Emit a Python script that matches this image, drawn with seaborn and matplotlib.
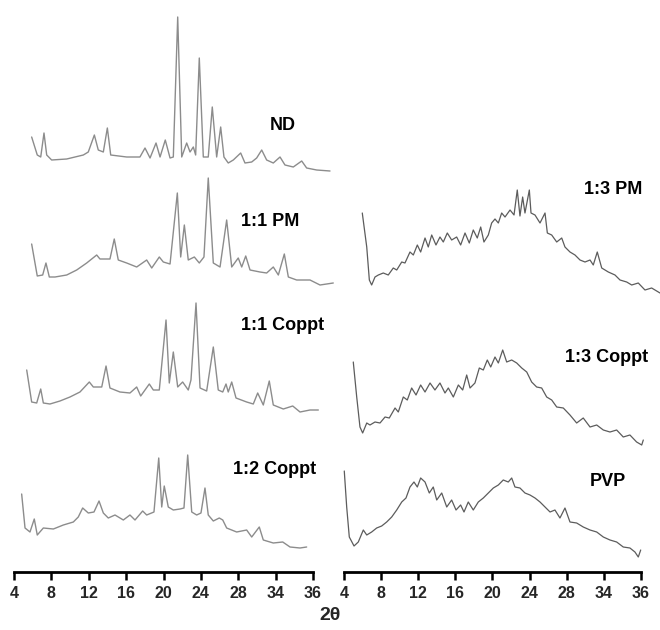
import matplotlib
matplotlib.use("Agg")
import matplotlib.pyplot as plt
import seaborn as sns
import numpy as np
import pandas as pd

# ---------------- data (2-theta in degrees, intensity in a.u.) ----------------
nd_x = [5.89, 6.49, 6.86, 7.21, 7.50, 8.03, 9.64, 11.42, 11.95, 12.60, 13.02, 13.56, 13.99, 14.35,
        16.06, 17.48, 18.02, 18.56, 19.20, 19.63, 20.19, 20.70, 21.05, 21.52, 21.95, 22.48, 22.84,
        23.19, 23.44, 23.83, 24.26, 24.79, 25.22, 25.69, 26.12, 26.47, 26.93, 27.47, 28.26, 28.72,
        29.44, 29.97, 30.51, 31.04, 31.75, 32.47, 33.00, 33.89, 34.79, 35.32, 36.39, 37.82]
nd_y = [35, 17, 15, 39, 17, 12, 13, 17, 20, 37, 22, 20, 44, 17,
        15, 15, 24, 14, 29, 15, 32, 14, 15, 155, 15, 29, 20,
        25, 17, 114, 15, 15, 65, 15, 45, 15, 9, 12, 19, 9,
        10, 14, 22, 12, 9, 15, 7, 5, 11, 4, 2, 1]

pm11_x = [5.89, 6.49, 7.07, 7.42, 7.78, 8.39, 9.64, 10.71, 11.78, 12.85, 13.20, 14.27, 14.73, 15.16,
          16.06, 17.13, 18.20, 18.74, 19.55, 19.98, 20.70, 21.48, 21.84, 22.23, 22.65, 23.30, 23.83,
          24.33, 24.79, 25.33, 26.05, 26.76, 27.30, 28.00, 28.37, 28.80, 29.26, 30.33, 31.04, 31.75,
          32.29, 32.93, 33.36, 34.25, 35.68, 36.75, 38.17]
pm11_y = [42, 10, 11, 23, 9, 9, 11, 16, 23, 31, 27, 27, 47, 26,
          23, 19, 26, 18, 29, 24, 22, 93, 29, 61, 26, 29, 23,
          29, 108, 23, 19, 66, 19, 28, 19, 30, 16, 14, 13, 19,
          11, 32, 9, 6, 6, 1, 3]

cp11_x = [5.36, 5.89, 6.43, 6.86, 7.14, 7.85, 8.92, 9.99, 11.06, 12.06, 12.49, 13.39, 13.85, 14.27,
          15.34, 16.41, 17.13, 17.56, 18.48, 18.91, 19.55, 20.27, 20.62, 21.05, 21.52, 22.05, 22.65,
          22.94, 23.48, 23.91, 24.62, 25.33, 25.86, 26.34, 26.69, 26.93, 27.30, 27.76, 28.90, 29.61,
          30.08, 30.68, 31.32, 31.75, 32.82, 33.83, 34.61, 35.68, 36.57]
cp11_y = [42, 10, 9, 23, 9, 8, 11, 15, 20, 30, 25, 25, 46, 24,
          20, 19, 25, 16, 28, 22, 22, 92, 29, 60, 25, 30, 22,
          32, 109, 24, 21, 65, 22, 20, 28, 20, 30, 14, 10, 8,
          19, 7, 31, 7, 3, 6, 0, 2, 2]

cp12_x = [4.82, 5.18, 5.71, 6.17, 6.49, 7.14, 8.21, 9.28, 10.35, 10.88, 11.35, 11.95, 12.56, 13.10,
          13.56, 14.09, 14.81, 15.70, 16.41, 16.95, 17.77, 18.20, 18.98, 19.49, 19.81, 20.08, 20.51,
          21.05, 21.77, 22.19, 22.59, 23.02, 23.55, 24.01, 24.44, 24.79, 25.33, 25.97, 26.34, 26.76,
          27.83, 28.90, 29.44, 30.25, 30.68, 31.75, 32.76, 33.54, 34.61, 35.32]
cp12_y = [55, 21, 17, 30, 14, 21, 20, 24, 27, 32, 41, 36, 37, 48,
          36, 31, 34, 29, 34, 29, 38, 34, 37, 91, 42, 63, 42,
          39, 40, 41, 94, 37, 34, 36, 61, 34, 28, 31, 29, 21,
          17, 19, 12, 22, 9, 6, 7, 2, 1, 2]

pm13_x = [5.97, 6.45, 6.73, 6.98, 7.34, 7.70, 8.23, 8.77, 9.31, 9.68, 10.22, 10.57, 11.11, 11.47,
          11.90, 12.26, 12.73, 13.08, 13.45, 13.91, 14.34, 14.70, 15.13, 15.60, 16.14, 16.57, 17.04,
          17.50, 17.93, 18.36, 18.73, 19.08, 19.55, 19.91, 20.27, 20.63, 20.99, 21.35, 21.89, 22.32,
          22.67, 22.96, 23.25, 23.50, 23.97, 24.15, 24.58, 25.12, 25.66, 25.91, 26.38, 26.92, 27.46,
          27.81, 28.35, 28.89, 29.43, 29.97, 30.51, 30.86, 31.29, 31.77, 32.48, 33.20, 33.74, 34.46,
          35.00, 35.71, 36.43, 37.15, 38.05]
pm13_y = [81, 47, 14, 9, 17, 19, 21, 19, 26, 24, 32, 31, 42, 39,
          49, 42, 56, 47, 59, 49, 57, 52, 61, 54, 57, 49, 61,
          51, 64, 56, 67, 52, 59, 71, 75, 71, 81, 77, 84, 79,
          104, 78, 97, 81, 104, 81, 79, 71, 81, 61, 59, 52, 56,
          47, 42, 39, 34, 32, 34, 29, 42, 26, 22, 19, 14, 12,
          9, 11, 4, 6, 1]

cp13_x = [5.00, 5.37, 5.72, 6.01, 6.45, 6.80, 7.34, 7.88, 8.42, 8.88, 9.50, 9.85, 10.39, 10.82,
          11.29, 11.76, 12.26, 12.73, 13.27, 13.80, 14.34, 14.88, 15.24, 15.78, 16.32, 16.79, 17.22,
          17.58, 18.11, 18.58, 19.01, 19.44, 19.81, 20.27, 20.63, 21.10, 21.53, 22.07, 22.61, 23.15,
          23.69, 24.22, 24.76, 25.30, 25.84, 26.38, 26.92, 27.63, 28.35, 29.07, 29.78, 30.51, 31.23,
          31.94, 32.66, 33.38, 34.09, 34.81, 35.53, 36.08, 36.25]
cp13_y = [84, 49, 19, 13, 23, 21, 24, 23, 29, 28, 38, 34, 49, 46,
          58, 51, 61, 54, 63, 56, 63, 53, 58, 49, 61, 56, 71,
          58, 63, 78, 76, 86, 79, 89, 83, 96, 84, 86, 83, 78,
          74, 64, 59, 58, 49, 46, 39, 38, 31, 23, 28, 19, 21,
          16, 14, 16, 9, 11, 4, 1, 6]

pvp_x = [4.03, 4.29, 4.57, 5.08, 5.54, 6.08, 6.45, 6.98, 7.52, 8.06, 8.60, 9.14, 9.68, 10.22,
         10.68, 11.11, 11.54, 11.90, 12.26, 12.73, 13.19, 13.62, 13.99, 14.53, 15.07, 15.60, 16.07,
         16.57, 16.93, 17.39, 17.93, 18.47, 19.01, 19.55, 20.09, 20.63, 21.16, 21.70, 22.07, 22.42,
         22.96, 23.50, 24.04, 24.58, 25.12, 25.66, 26.20, 26.73, 27.27, 27.81, 28.35, 29.07, 29.78,
         30.51, 31.23, 31.94, 32.66, 33.38, 34.09, 34.81, 35.35, 35.71, 35.97]
pvp_y = [86, 50, 20, 11, 15, 27, 22, 25, 29, 31, 35, 40, 47, 55,
         59, 70, 75, 70, 79, 75, 64, 70, 57, 64, 50, 57, 47,
         52, 45, 55, 47, 55, 59, 64, 69, 72, 77, 75, 79, 70,
         69, 64, 62, 59, 55, 50, 45, 47, 39, 49, 35, 34, 30,
         27, 25, 20, 17, 15, 10, 9, 5, 0, 7]

left_names = ["ND", "1:1 PM", "1:1 Coppt", "1:2 Coppt"]
right_names = ["1:3 PM", "1:3 Coppt", "PVP"]
tick_values = [4, 8, 12, 16, 20, 24, 28, 32, 36]
tick_labels = ["4", "8", "12", "16", "20", "24", "28", "34", "36"]

series = {
    "ND": (nd_x, nd_y), "1:1 PM": (pm11_x, pm11_y), "1:1 Coppt": (cp11_x, cp11_y),
    "1:2 Coppt": (cp12_x, cp12_y), "1:3 PM": (pm13_x, pm13_y),
    "1:3 Coppt": (cp13_x, cp13_y), "PVP": (pvp_x, pvp_y),
}

# ---------------- layout / style (not data) ----------------
offsets = {"ND": 400, "1:1 PM": 286, "1:1 Coppt": 160, "1:2 Coppt": 23,
           "1:3 PM": 278, "1:3 Coppt": 126, "PVP": 15}
label_pos = {"ND": (32.8, 447), "1:1 PM": (31.4, 350), "1:1 Coppt": (32.7, 247),
             "1:2 Coppt": (31.9, 102), "1:3 PM": (33.0, 382), "1:3 Coppt": (32.3, 214),
             "PVP": (32.45, 90)}

sns.set_style("white")
plt.rcParams["font.family"] = ["Liberation Sans", "DejaVu Sans"]

W, H = 660, 630
fig = plt.figure(figsize=(W / 100, H / 100), dpi=100)
fig.patch.set_facecolor("white")
ax_bottom = (H - 572) / H
ax_h = 572 / H
axL = fig.add_axes([0, ax_bottom, 335 / W, ax_h])
axR = fig.add_axes([335 / W, ax_bottom, 325 / W, ax_h])

for ax, names, xlim, color, lw in [
    (axL, left_names, (2.502, 38.354), "#8c8c8c", 1.0),
    (axR, right_names, (3.03, 38.05), "#5c5c5c", 0.9),
]:
    for name in names:
        xs, ys = series[name]
        df = pd.DataFrame({"two_theta": xs, "intensity": np.array(ys, float) + offsets[name]})
        sns.lineplot(data=df, x="two_theta", y="intensity", ax=ax, color=color,
                     linewidth=lw, sort=False, estimator=None)
        for ln in ax.lines:
            ln.set_clip_on(False)
        lx, ly = label_pos[name]
        ax.text(lx, ly, name, ha="center", va="center", fontsize=13,
                fontweight="bold", color="black")
    ax.set_xlim(*xlim)
    ax.set_ylim(0, 572)
    ax.set_facecolor("none")
    for s in ["top", "left", "right"]:
        ax.spines[s].set_visible(False)
    ax.spines["bottom"].set_visible(True)
    ax.spines["bottom"].set_color("black")
    ax.spines["bottom"].set_linewidth(2.0)
    ax.spines["bottom"].set_bounds(4, 36)
    ax.set_yticks([])
    ax.set_xticks(tick_values)
    ax.set_xticklabels(tick_labels, fontsize=11.5, fontweight="bold")
    ax.tick_params(axis="x", direction="out", length=6, width=1.8, color="black",
                   pad=4, bottom=True)
    ax.set_xlabel("")
    ax.set_ylabel("")

fig.text(330 / W, 1 - 615 / H, "2θ", ha="center", va="center", fontsize=14,
         fontweight="bold")

fig.savefig("out.png", dpi=100, facecolor="white")
